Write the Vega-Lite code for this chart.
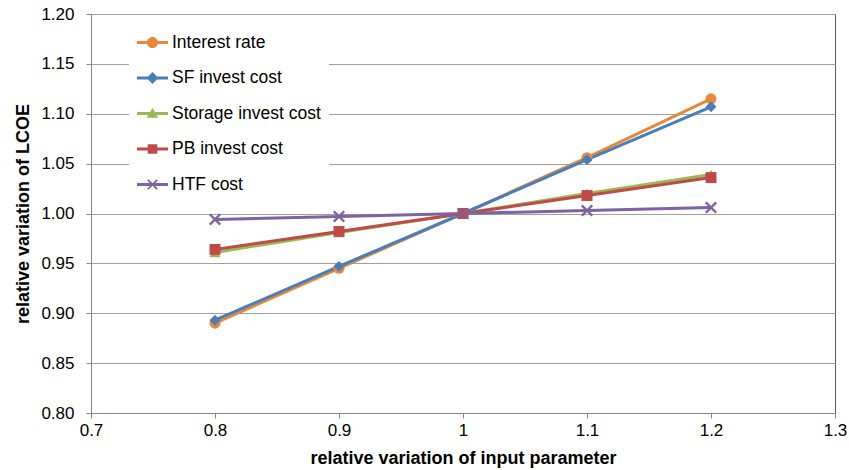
{
  "$schema": "https://vega.github.io/schema/vega-lite/v6.json",
  "width": 744,
  "height": 399,
  "autosize": "none",
  "padding": {"left": 91, "top": 14, "right": 14, "bottom": 57},
  "background": "white",
  "config": {
    "font": "Liberation Sans",
    "view": {"stroke": "#595959", "strokeWidth": 1}
  },
  "data": {
    "values": [
      {"series": "Interest rate", "x": 0.8, "y": 0.890},
      {"series": "Interest rate", "x": 0.9, "y": 0.945},
      {"series": "Interest rate", "x": 1.0, "y": 1.000},
      {"series": "Interest rate", "x": 1.1, "y": 1.056},
      {"series": "Interest rate", "x": 1.2, "y": 1.115},
      {"series": "SF invest cost", "x": 0.8, "y": 0.893},
      {"series": "SF invest cost", "x": 0.9, "y": 0.947},
      {"series": "SF invest cost", "x": 1.0, "y": 1.000},
      {"series": "SF invest cost", "x": 1.1, "y": 1.054},
      {"series": "SF invest cost", "x": 1.2, "y": 1.107},
      {"series": "Storage invest cost", "x": 0.8, "y": 0.961},
      {"series": "Storage invest cost", "x": 0.9, "y": 0.981},
      {"series": "Storage invest cost", "x": 1.0, "y": 1.000},
      {"series": "Storage invest cost", "x": 1.1, "y": 1.020},
      {"series": "Storage invest cost", "x": 1.2, "y": 1.039},
      {"series": "PB invest cost", "x": 0.8, "y": 0.964},
      {"series": "PB invest cost", "x": 0.9, "y": 0.982},
      {"series": "PB invest cost", "x": 1.0, "y": 1.000},
      {"series": "PB invest cost", "x": 1.1, "y": 1.018},
      {"series": "PB invest cost", "x": 1.2, "y": 1.036},
      {"series": "HTF cost", "x": 0.8, "y": 0.994},
      {"series": "HTF cost", "x": 0.9, "y": 0.997},
      {"series": "HTF cost", "x": 1.0, "y": 1.000},
      {"series": "HTF cost", "x": 1.1, "y": 1.003},
      {"series": "HTF cost", "x": 1.2, "y": 1.006}
    ]
  },
  "encoding": {
    "x": {
      "field": "x",
      "type": "quantitative",
      "scale": {"domain": [0.7, 1.3], "nice": false, "zero": false},
      "axis": {
        "values": [0.7, 0.8, 0.9, 1, 1.1, 1.2, 1.3],
        "format": "~g",
        "title": "relative variation of input parameter",
        "grid": false,
        "domainColor": "#868686",
        "tickColor": "#868686",
        "tickSize": 5,
        "labelFontSize": 17,
        "labelColor": "#000000",
        "labelPadding": 4,
        "labelFlush": false,
        "titleFontSize": 18,
        "titleFontWeight": "bold",
        "titleColor": "#000000",
        "titlePadding": 11
      }
    },
    "y": {
      "field": "y",
      "type": "quantitative",
      "scale": {"domain": [0.8, 1.2], "nice": false, "zero": false},
      "axis": {
        "values": [0.8, 0.85, 0.9, 0.95, 1.0, 1.05, 1.1, 1.15, 1.2],
        "format": ".2f",
        "title": "relative variation of LCOE",
        "grid": true,
        "gridColor": "#a0a0a0",
        "domainColor": "#868686",
        "tickColor": "#868686",
        "tickSize": 5,
        "labelFontSize": 17,
        "labelColor": "#000000",
        "labelPadding": 12,
        "titleFontSize": 18,
        "titleFontWeight": "bold",
        "titleColor": "#000000",
        "titlePadding": 8
      }
    },
    "color": {
      "field": "series",
      "type": "nominal",
      "scale": {
        "domain": ["Interest rate", "SF invest cost", "Storage invest cost", "PB invest cost", "HTF cost"],
        "range": ["#E8883A", "#4A7EBB", "#98B954", "#BE4B48", "#7E62A1"]
      },
      "legend": {
        "title": null,
        "orient": "none",
        "legendX": 38,
        "legendY": 5,
        "padding": 8,
        "fillColor": "white",
        "rowPadding": 11.5,
        "labelOffset": 4,
        "labelFontSize": 17.5,
        "labelColor": "#000000",
        "labelFont": "Liberation Sans",
        "symbolType": "circle",
        "symbolSize": 961,
        "symbolStrokeWidth": 0,
        "encode": {
          "symbols": {
            "update": {
              "shape": {"signal": "datum.value === 'Interest rate' ? 'M-1,-0.1H1V0.1H-1Z M-0.36,0A0.36,0.36 0 1,1 0.36,0A0.36,0.36 0 1,1 -0.36,0Z' : datum.value === 'SF invest cost' ? 'M-1,-0.1H1V0.1H-1Z M0,-0.38L0.38,0L0,0.38L-0.38,0Z' : datum.value === 'Storage invest cost' ? 'M-1,-0.1H1V0.1H-1Z M0,-0.36L0.38,0.28L-0.38,0.28Z' : datum.value === 'PB invest cost' ? 'M-1,-0.1H1V0.1H-1Z M-0.31,-0.31H0.31V0.31H-0.31Z' : 'M-1,-0.1H1V0.1H-1Z M-0.26,-0.34L0.34,0.26L0.26,0.34L-0.34,-0.26Z M0.26,-0.34L0.34,-0.26L-0.26,0.34L-0.34,0.26Z'"},
              "fill": {"signal": "scale('color', datum.value)"},
              "strokeWidth": {"value": 0},
              "opacity": {"value": 1}
            }
          }
        }
      }
    }
  },
  "layer": [
    {
      "mark": {"type": "line", "strokeWidth": 3}
    },
    {
      "mark": {"type": "point", "filled": true, "size": 120, "opacity": 1},
      "encoding": {
        "shape": {
          "condition": [
            {"test": "datum.series === 'Interest rate'", "value": "circle"},
            {"test": "datum.series === 'SF invest cost'", "value": "diamond"},
            {"test": "datum.series === 'Storage invest cost'", "value": "triangle-up"},
            {"test": "datum.series === 'PB invest cost'", "value": "square"}
          ],
          "value": "M-0.8,-1.1L1.1,0.8L0.8,1.1L-1.1,-0.8Z M0.8,-1.1L1.1,-0.8L-0.8,1.1L-1.1,0.8Z"
        }
      }
    }
  ]
}
